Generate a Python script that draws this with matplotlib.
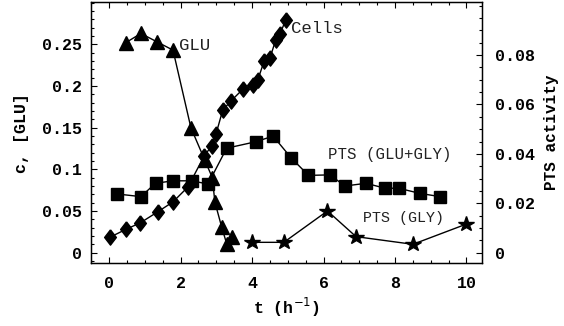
import numpy as np
import matplotlib
matplotlib.use('Agg')
import matplotlib.pyplot as plt
from matplotlib.ticker import MultipleLocator

# glucose concentration (left axis)
t_glu = [0.47, 0.89, 1.34, 1.79, 2.29, 2.68, 2.89, 2.96, 3.15, 3.29, 3.43]
glu = [0.252, 0.263, 0.253, 0.243, 0.150, 0.111, 0.090, 0.061, 0.031, 0.011, 0.019]

# cells (left axis)
t_cells = [0.02, 0.47, 0.88, 1.36, 1.79, 2.21, 2.66, 2.87, 2.99, 3.18, 3.41,
           3.74, 4.02, 4.16, 4.34, 4.50, 4.66, 4.78, 4.94]
cells = [0.0185, 0.028, 0.036, 0.049, 0.061, 0.079, 0.116, 0.128, 0.142, 0.171, 0.182,
         0.196, 0.201, 0.207, 0.230, 0.233, 0.255, 0.262, 0.279]

# PTS activity (right axis)
t_pts_mix = [0.21, 0.89, 1.30, 1.79, 2.31, 2.77, 3.29, 4.10, 4.59, 5.10, 5.58,
             6.18, 6.60, 7.19, 7.72, 8.10, 8.70, 9.26]
pts_mix = [0.0238, 0.0227, 0.0281, 0.0291, 0.0291, 0.0278, 0.0423, 0.0449, 0.0472, 0.0383, 0.0313,
           0.0315, 0.0270, 0.0281, 0.0261, 0.0261, 0.0240, 0.0227]

t_pts_gly = [3.99, 4.89, 6.11, 6.91, 8.50, 9.98]
pts_gly = [0.0042, 0.0042, 0.0169, 0.0065, 0.0034, 0.0115]

mono = 'Liberation Mono'
diamond = [(0, 1), (0.77, 0), (0, -1), (-0.77, 0), (0, 1)]

fig = plt.figure(figsize=(5.64, 3.26), dpi=100)
ax = fig.add_axes([0.161, 0.193, 0.694, 0.801])
ax2 = ax.twinx()

ax.plot(t_glu, glu, 'k-', marker='^', lw=1, ms=10, zorder=3)
ax.plot(t_cells, cells, 'k-', marker=diamond, lw=1, ms=11, zorder=3)
ax2.plot(t_pts_mix, pts_mix, 'k-s', lw=1, ms=9.3)
ax2.plot(t_pts_gly, pts_gly, 'k-*', lw=1, ms=11.5)

ax.set_xlim(-0.51, 10.44)
ax.set_ylim(-0.0124, 0.3008)
ax2.set_ylim(-0.0042, 0.1015)

ax.xaxis.set_major_locator(MultipleLocator(2))
ax.xaxis.set_minor_locator(MultipleLocator(0.5))
ax.yaxis.set_major_locator(MultipleLocator(0.05))
ax.yaxis.set_minor_locator(MultipleLocator(0.01))
ax2.yaxis.set_major_locator(MultipleLocator(0.02))
ax2.yaxis.set_minor_locator(MultipleLocator(0.005))

ax.tick_params(axis='x', which='both', direction='in', top=True, length=4, width=0.8)
ax.tick_params(axis='y', which='both', direction='in', length=4, width=0.8)
ax.tick_params(which='minor', length=2.5)
ax2.tick_params(which='both', direction='in', length=4, width=0.8)
ax2.tick_params(which='minor', length=2.5)

ax.set_xticks(range(0, 11, 2))
ax.set_xticklabels([str(v) for v in range(0, 11, 2)])
ax.set_yticks([0, 0.05, 0.1, 0.15, 0.2, 0.25])
ax.set_yticklabels(['0', '0.05', '0.1', '0.15', '0.2', '0.25'])
ax2.set_yticks([0, 0.02, 0.04, 0.06, 0.08])
ax2.set_yticklabels(['0', '0.02', '0.04', '0.06', '0.08'])

for lab in ax.get_xticklabels() + ax.get_yticklabels() + ax2.get_yticklabels():
    lab.set_family(mono)
    lab.set_fontweight('bold')
    lab.set_fontsize(12)
ax.tick_params(axis='x', pad=9)
ax.tick_params(axis='y', pad=6)
ax2.tick_params(axis='y', pad=9)

ax.set_xlabel('t (h$^{-1}$)', family=mono, fontweight='bold', fontsize=12, labelpad=4)
ax.set_ylabel('c, [GLU]', family=mono, fontweight='bold', fontsize=12, labelpad=10)
ax2.set_ylabel('PTS activity', family=mono, fontweight='bold', fontsize=11.5, labelpad=7)

ax.text(1.95, 0.249, 'GLU', family=mono, fontsize=12.5, va='center', color='#222222')
ax.text(5.1, 0.269, 'Cells', family=mono, fontsize=12.5, va='center', color='#222222')
ax2.text(6.13, 0.0396, 'PTS (GLU+GLY)', family=mono, fontsize=11.3, va='center', color='#222222')
ax2.text(7.10, 0.0140, 'PTS (GLY)', family=mono, fontsize=10.8, va='center', color='#222222')

for s in ax.spines.values():
    s.set_linewidth(1)

fig.savefig('out.png', dpi=100)
